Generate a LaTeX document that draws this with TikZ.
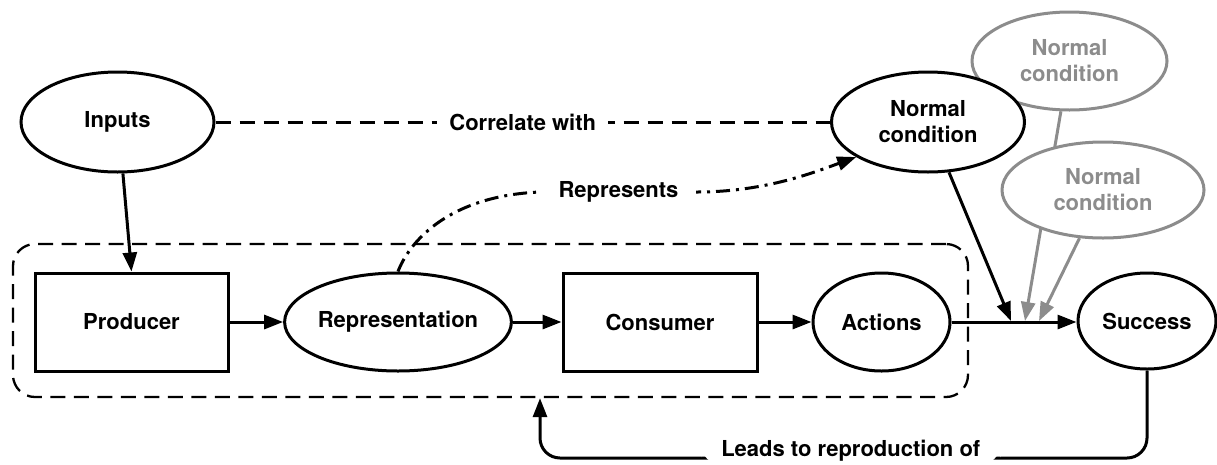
\documentclass[tikz,border=0pt]{standalone}
\usepackage{fontspec}
\setmainfont{TeX Gyre Heros}
\usetikzlibrary{arrows.meta,shapes.geometric,calc}
\definecolor{gcol}{RGB}{140,140,140}
\begin{document}
\begin{tikzpicture}[x=1pt,y=-1pt,
  every node/.style={font=\fontsize{22}{26}\selectfont\bfseries, align=center},
  ell/.style={ellipse, draw, line width=3pt, fill=white, inner sep=0pt},
  gell/.style={ell, draw=gcol, text=gcol},
  box/.style={rectangle, draw, line width=3pt, fill=white, inner sep=0pt},
  tip/.style={-{Triangle[length=19pt,width=14pt]}},
  conn/.style={line width=3pt, tip},
  gconn/.style={line width=3pt, draw=gcol, -{Triangle[length=19pt,width=14pt,fill=gcol]}},
  lab/.style={fill=white, inner ysep=3pt},
  dashline/.style={line width=3pt, dash pattern=on 15pt off 9pt},
  dotline/.style={line width=3pt, dash pattern=on 14pt off 6pt on 3pt off 6pt, tip},
  cbox/.style={draw, line width=2.3pt, dash pattern=on 15pt off 8.5pt, rounded corners=22pt, inner sep=0pt}
]
\useasboundingbox (0,0) rectangle (1217,464);

% container
\node[cbox, minimum width=955pt, minimum height=153pt] (cont) at (490.5,320.5) {};

% top nodes
\node[ell, minimum width=193pt, minimum height=100pt] (inputs) at (117.5,122) {Inputs};
\node[gell, minimum width=195pt, minimum height=98pt] (g1) at (1069.5,61) {Normal\\condition};

\coordinate (j1) at (1011,321);
\coordinate (j2) at (1025,321);
\coordinate (j3) at (1039,321);

\draw[gconn] (g1) -- (j2);
\node[gell, minimum width=202pt, minimum height=96pt] (g2) at (1103,190) {Normal\\condition};
\draw[gconn] (g2) -- (j3);
\node[ell, minimum width=193pt, minimum height=100pt] (normal) at (928,122) {Normal\\condition};

% main row
\node[box, minimum width=193pt, minimum height=98pt] (prod) at (131.5,322) {Producer};
\node[ell, minimum width=222pt, minimum height=98pt] (rep) at (398,322) {Representation};
\node[box, minimum width=194pt, minimum height=98pt] (cons) at (660,322) {Consumer};
\node[ell, minimum width=137pt, minimum height=98pt] (act) at (881.5,322) {Actions};
\node[ell, minimum width=138pt, minimum height=96pt] (succ) at (1147,321) {Success};

% connectors
\draw[conn] (inputs.-84) -- (prod.north);
\draw[conn] (prod) -- (rep);
\draw[conn] (rep) -- (cons);
\draw[conn] (cons) -- (act);
\draw[conn] (act.east) -- (act.east -| succ.west);
\draw[conn] (normal) -- (j1);

\draw[dashline] (inputs.east) -- node[lab, inner xsep=12pt]{Correlate with} (normal.west);

\draw[dotline] (rep.north) .. controls (408,245) and (445,196) .. (540,192)
  -- node[lab, inner xsep=18pt]{Represents} (697,192)
  .. controls (765,192) and (815,172) .. (normal.206);

\coordinate (lb) at (540,458);
\draw[conn, rounded corners=20pt] (succ.south) |- node[lab, pos=0.744, yshift=7pt, inner xsep=20pt]{Leads to reproduction of} (lb) -- (lb |- cont.south);
\end{tikzpicture}
\end{document}
